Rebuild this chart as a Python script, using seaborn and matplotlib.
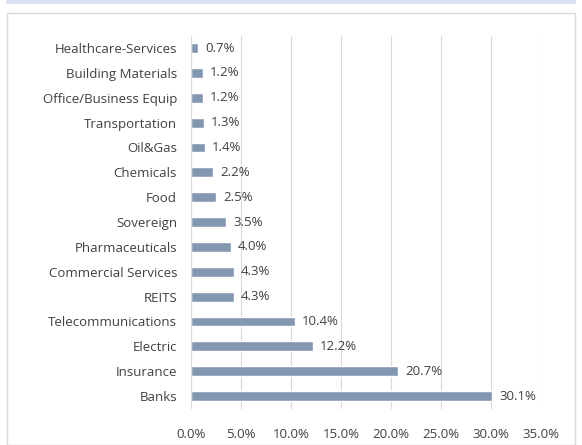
import matplotlib
matplotlib.use("Agg")
import matplotlib.pyplot as plt
import seaborn as sns
import pandas as pd
from matplotlib.patches import Rectangle

sectors = ["Healthcare-Services", "Building Materials", "Office/Business Equip",
           "Transportation", "Oil&Gas", "Chemicals", "Food", "Sovereign",
           "Pharmaceuticals", "Commercial Services", "REITS", "Telecommunications",
           "Electric", "Insurance", "Banks"]
shares = [0.7, 1.2, 1.2, 1.3, 1.4, 2.2, 2.5, 3.5, 4.0, 4.3, 4.3, 10.4, 12.2, 20.7, 30.1]

df = pd.DataFrame({"sector": sectors, "share": shares})

sns.set_style("white")
plt.rcParams["font.family"] = ["Open Sans", "DejaVu Sans"]

fig = plt.figure(figsize=(5.82, 4.45), dpi=100)
# light band at top and outer border
fig.patches.append(Rectangle((0.01, 0.99), 0.98, 0.01, transform=fig.transFigure,
                             facecolor="#dae3f3", edgecolor="none"))
fig.patches.append(Rectangle((0.012, 0.0), 0.976, 0.97, transform=fig.transFigure,
                             facecolor="none", edgecolor="#d9d9d9", linewidth=1))

ax = fig.add_axes([0.328, 0.082, 0.602, 0.838])
sns.barplot(data=df, x="share", y="sector", color="#8497b0", saturation=1,
            width=0.4, ax=ax)

for i, v in enumerate(shares):
    ax.text(v + 0.7, i, f"{v:.1f}%", va="center", ha="left", fontsize=9.5, color="#404040")

ax.set_xlim(0, 35)
ax.set_xticks(range(0, 36, 5))
ax.set_xticklabels([f"{t:.1f}%" for t in range(0, 36, 5)])
ax.grid(axis="x", color="#d9d9d9", linewidth=0.8)
ax.set_axisbelow(True)
for s in ax.spines.values():
    s.set_visible(False)
ax.axvline(0, color="#d9d9d9", linewidth=0.8)
ax.tick_params(axis="both", length=0, labelsize=9.5, labelcolor="#404040")
ax.tick_params(axis="x", pad=14)
ax.tick_params(axis="y", pad=10)
ax.set_xlabel("")
ax.set_ylabel("")

fig.savefig("out.png", dpi=100)
